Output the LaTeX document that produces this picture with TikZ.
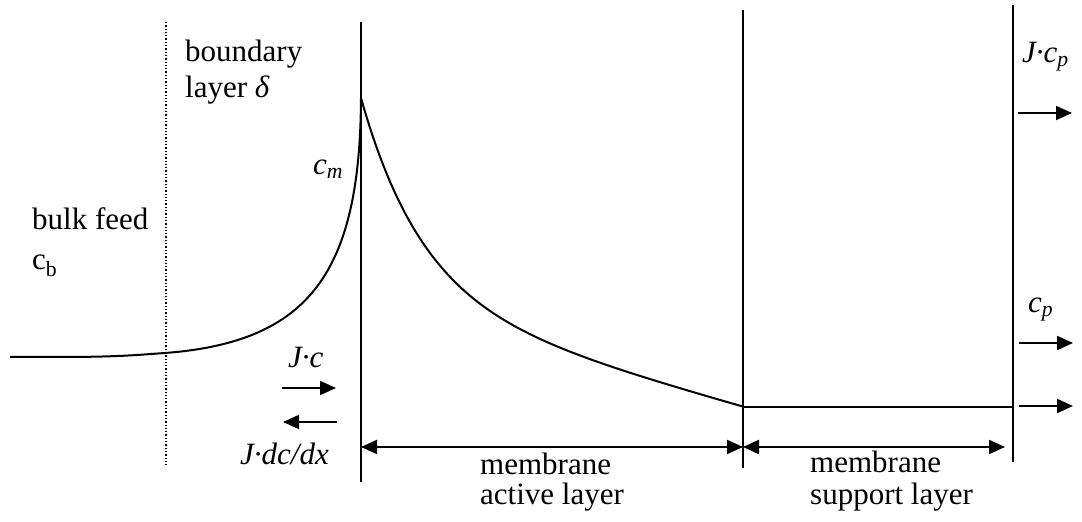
\documentclass[tikz,border=0pt]{standalone}
\usepackage{fontspec}
\setmainfont{Liberation Serif}
\usetikzlibrary{arrows.meta}

\tikzset{
    wall/.style={line width=2pt},
    flux/.style={line width=2pt, -{Triangle[length=16pt,width=14pt]}},
    span/.style={line width=2pt, {Triangle[length=16pt,width=14pt]}-{Triangle[length=16pt,width=14pt]}},
    lbl/.style={anchor=base west, inner sep=0pt, font=\fontsize{31}{36}\selectfont},
}

\begin{document}
\begin{tikzpicture}[x=1pt, y=1pt]
    \useasboundingbox (0,0) rectangle (1082,522);
    % walls
    \coordinate (bltop) at (166,500);
    \coordinate (blbot) at (166,55);
    \coordinate (actop) at (361,500);
    \coordinate (acbot) at (361,40);
    \coordinate (sptop) at (743,512);
    \coordinate (spbot) at (743,54);
    \coordinate (pmtop) at (1013,517);
    \coordinate (pmbot) at (1013,60);
    \draw[line width=1.3pt, dash pattern=on 1.3pt off 2pt] (bltop) -- (blbot);
    \draw[wall] (actop) -- (acbot);
    \draw[wall] (sptop) -- (spbot);
    \draw[wall] (pmtop) -- (pmbot);
    % concentration profile
    \coordinate (start) at (10,165);
    \coordinate (flat) at (60,165);
    \coordinate (edge) at (165,169);
    \coordinate (peak) at (361,424);
    \coordinate (low) at (743,115);
    \coordinate (end) at (1013,115);
    \draw[wall] (start) -- (flat) .. controls (120,165) and (140,167.3) .. (edge)
        .. controls (310,180) and (360,250) .. (peak);
    \draw[wall] plot[domain=361:743, samples=150] (\x, {115 + 0.28*(743-\x) + 202*exp(-(\x-361)/62)});
    \draw[wall] (low) -- (end);
    % layer widths
    \coordinate (acl) at (361,75);
    \coordinate (acr) at (743,75);
    \coordinate (spr) at (1005,75);
    \draw[span] (acl) -- (acr);
    \draw[span] (acr) -- (spr);
    % fluxes
    \coordinate (jcA) at (282,134);
    \coordinate (jcB) at (336,134);
    \coordinate (jdA) at (337,100);
    \coordinate (jdB) at (283,100);
    \coordinate (jpA) at (1018,409);
    \coordinate (jpB) at (1072,409);
    \coordinate (cpA) at (1019,179);
    \coordinate (cpB) at (1073,179);
    \coordinate (ppA) at (1019,116);
    \coordinate (ppB) at (1073,116);
    \draw[flux] (jcA) -- (jcB);
    \draw[flux] (jdA) -- (jdB);
    \draw[flux] (jpA) -- (jpB);
    \draw[flux] (cpA) -- (cpB);
    \draw[flux] (ppA) -- (ppB);
    % labels
    \node[lbl] (bnd) at (185,460) {boundary};
    \node[lbl] (bndd) at (185,424) {layer \textit{δ}};
    \node[lbl] (bulk) at (32,292) {bulk feed};
    \node[lbl] (cb) at (32,252) {c\textsubscript{b}};
    \node[lbl] (cm) at (313,347) {\textit{c}\textsubscript{\textit{m}}};
    \node[lbl] (jc) at (288,154) {\textit{J·c}};
    \node[lbl] (jdc) at (240,57) {\textit{J·dc/dx}};
    \node[lbl] (act) at (480,47) {membrane};
    \node[lbl] (actl) at (480,17) {active layer};
    \node[lbl] (sup) at (810,49) {membrane};
    \node[lbl] (supl) at (810,17) {support layer};
    \node[lbl] (jcp) at (1022,459) {\textit{J·c}\textsubscript{\textit{p}}};
    \node[lbl] (cp) at (1028,209) {\textit{c}\textsubscript{\textit{p}}};
\end{tikzpicture}
\end{document}
